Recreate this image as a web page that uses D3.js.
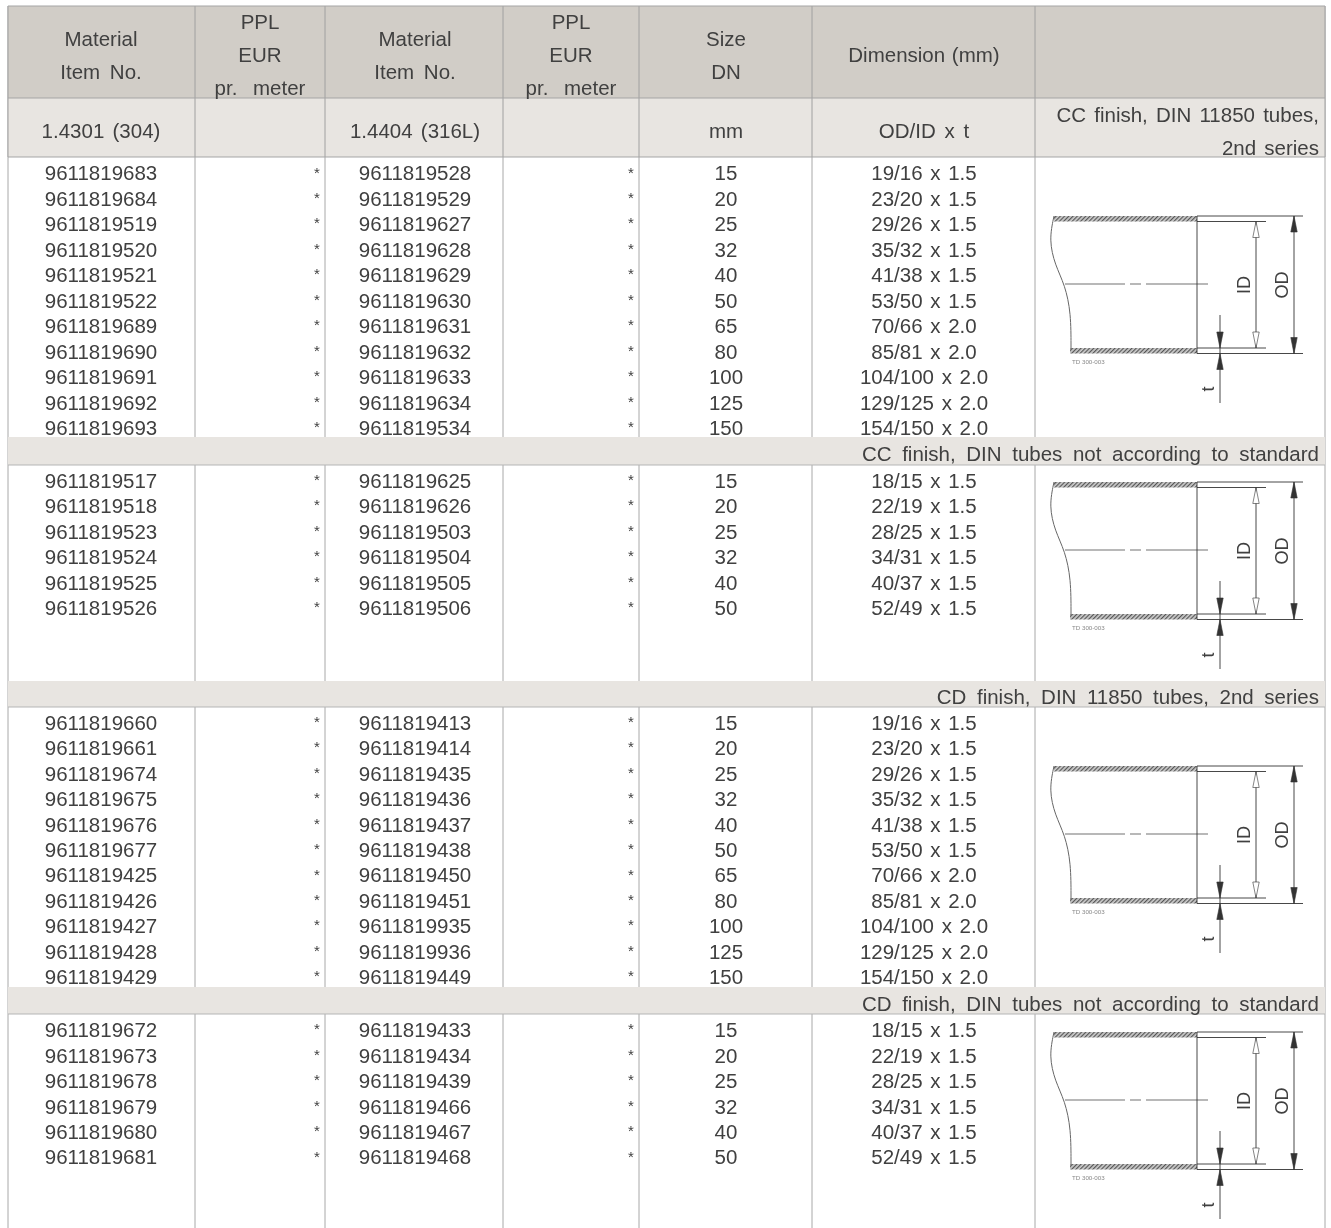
<!DOCTYPE html>
<html>
<head>
<meta charset="utf-8">
<script src="https://cdn.jsdelivr.net/npm/d3@7"></script>
<style>
body { margin: 0; background: #fff; }
svg { display: block; filter: blur(0.35px); }
text { font-family: "Liberation Sans", sans-serif; fill: #404040; }
</style>
</head>
<body>
<div id="table"></div>
<script>
const width = 1331;
const height = 1228;

// table content
const sizesLong = ["15", "20", "25", "32", "40", "50", "65", "80", "100", "125", "150"];
const sizesShort = ["15", "20", "25", "32", "40", "50"];
const dimsLong = ["19/16 x 1.5", "23/20 x 1.5", "29/26 x 1.5", "35/32 x 1.5", "41/38 x 1.5", "53/50 x 1.5",
  "70/66 x 2.0", "85/81 x 2.0", "104/100 x 2.0", "129/125 x 2.0", "154/150 x 2.0"];
const dimsShort = ["18/15 x 1.5", "22/19 x 1.5", "28/25 x 1.5", "34/31 x 1.5", "40/37 x 1.5", "52/49 x 1.5"];

const items304a = ["9611819683", "9611819684", "9611819519", "9611819520", "9611819521", "9611819522",
  "9611819689", "9611819690", "9611819691", "9611819692", "9611819693"];
const items316a = ["9611819528", "9611819529", "9611819627", "9611819628", "9611819629", "9611819630",
  "9611819631", "9611819632", "9611819633", "9611819634", "9611819534"];
const items304b = ["9611819517", "9611819518", "9611819523", "9611819524", "9611819525", "9611819526"];
const items316b = ["9611819625", "9611819626", "9611819503", "9611819504", "9611819505", "9611819506"];
const items304c = ["9611819660", "9611819661", "9611819674", "9611819675", "9611819676", "9611819677",
  "9611819425", "9611819426", "9611819427", "9611819428", "9611819429"];
const items316c = ["9611819413", "9611819414", "9611819435", "9611819436", "9611819437", "9611819438",
  "9611819450", "9611819451", "9611819935", "9611819936", "9611819449"];
const items304d = ["9611819672", "9611819673", "9611819678", "9611819679", "9611819680", "9611819681"];
const items316d = ["9611819433", "9611819434", "9611819439", "9611819466", "9611819467", "9611819468"];

const bandLabels = ["CC finish, DIN tubes not according to standard",
  "CD finish, DIN 11850 tubes, 2nd series",
  "CD finish, DIN tubes not according to standard"];

// layout
const colEdges = [8, 195, 325, 503, 639, 812, 1035, 1325];
const cx = { item1: 101, star1: 317, item2: 415, star2: 631, size: 726, dim: 924, ppl1: 260, ppl2: 571 };
const rowStep = 25.45;
const fontSize = 20.5;

const sections = [
  { a: items304a, b: items316a, sizes: sizesLong, dims: dimsLong, y0: 173.3, draw: 216 },
  { a: items304b, b: items316b, sizes: sizesShort, dims: dimsShort, y0: 480.6, draw: 482 },
  { a: items304c, b: items316c, sizes: sizesLong, dims: dimsLong, y0: 722.6, draw: 766 },
  { a: items304d, b: items316d, sizes: sizesShort, dims: dimsShort, y0: 1030, draw: 1032 }
];
const bands = [{ y0: 437, y1: 465 }, { y0: 681, y1: 707 }, { y0: 987, y1: 1014 }];

const svg = d3.select("#table").append("svg")
  .attr("width", width)
  .attr("height", height);

const defs = svg.append("defs");
const hatch = defs.append("pattern")
  .attr("id", "hatch")
  .attr("width", 3)
  .attr("height", 3)
  .attr("patternUnits", "userSpaceOnUse")
  .attr("patternTransform", "rotate(45)");
hatch.append("rect").attr("width", 3).attr("height", 3).attr("fill", "#ccc");
hatch.append("rect").attr("width", 1.2).attr("height", 3).attr("fill", "#555");

function label(parent, x, y, str, anchor, size, gap) {
  return parent.append("text")
    .attr("x", x)
    .attr("y", y)
    .attr("dy", "0.35em")
    .attr("text-anchor", anchor || "middle")
    .style("font-size", (size || fontSize) + "px")
    .style("word-spacing", (gap === undefined ? 2.5 : gap) + "px")
    .text(str);
}

// body rows first, the bands sit over the last row of each block
sections.forEach(s => {
  const y = d3.scaleLinear().domain([0, 1]).range([s.y0, s.y0 + rowStep]);
  const g = svg.append("g");
  s.a.forEach((d, i) => {
    label(g, cx.item1, y(i), d);
    label(g, cx.star1, y(i) - 1, "*", "middle", 15);
    label(g, cx.item2, y(i), s.b[i]);
    label(g, cx.star2, y(i) - 1, "*", "middle", 15);
    label(g, cx.size, y(i), s.sizes[i]);
    label(g, cx.dim, y(i), s.dims[i], "middle", fontSize, 2);
  });
});

// column rules
svg.append("g").selectAll("line")
  .data(colEdges)
  .enter().append("line")
  .attr("x1", d => d)
  .attr("x2", d => d)
  .attr("y1", 6)
  .attr("y2", height)
  .attr("stroke", "#a8a8a8")
  .attr("stroke-width", 1);

// header
svg.append("rect").attr("x", 8).attr("y", 6).attr("width", 1317).attr("height", 92).attr("fill", "#d1cdc7");
svg.append("rect").attr("x", 8).attr("y", 98).attr("width", 1317).attr("height", 59).attr("fill", "#e8e5e1");
svg.append("g").selectAll("line")
  .data(colEdges)
  .enter().append("line")
  .attr("x1", d => d)
  .attr("x2", d => d)
  .attr("y1", 6)
  .attr("y2", 157)
  .attr("stroke", "#a0a0a0")
  .attr("stroke-width", 1);
svg.append("g").selectAll("line")
  .data([6, 98, 157])
  .enter().append("line")
  .attr("x1", 8)
  .attr("x2", 1325)
  .attr("y1", d => d)
  .attr("y2", d => d)
  .attr("stroke", "#a5a5a5");

const head = svg.append("g");
[cx.item1, cx.item2].forEach(x => {
  label(head, x, 39, "Material");
  label(head, x, 72, "Item No.", "middle", fontSize, 4);
});
[cx.ppl1, cx.ppl2].forEach(x => {
  label(head, x, 22, "PPL");
  label(head, x, 55, "EUR");
  label(head, x, 88.2, "pr. meter", "middle", fontSize, 10);
});
label(head, cx.size, 39, "Size");
label(head, cx.size, 72, "DN");
label(head, cx.dim, 55, "Dimension (mm)", "middle", fontSize, 1);
label(head, cx.item1, 131, "1.4301 (304)");
label(head, cx.item2, 131, "1.4404 (316L)");
label(head, cx.size, 131, "mm");
label(head, cx.dim, 131, "OD/ID x t", "middle", fontSize, 3);
label(head, 1319, 115, "CC finish, DIN 11850 tubes,", "end");
label(head, 1319, 148, "2nd series", "end");

// section bands
bands.forEach((b, i) => {
  svg.append("rect")
    .attr("x", 8)
    .attr("y", b.y0)
    .attr("width", 1317)
    .attr("height", b.y1 - b.y0)
    .attr("fill", "#e8e5e1");
  svg.append("line")
    .attr("x1", 8).attr("x2", 1325)
    .attr("y1", b.y1).attr("y2", b.y1)
    .attr("stroke", "#b5b5b5");
  label(svg, 1319, (b.y0 + b.y1) / 2 + 3, bandLabels[i], "end", fontSize, 4.9);
});

// tube drawing, same one repeated in each block
const breakCurve = [[24, 0], [19, 24], [25, 49], [35, 69], [41, 97], [41, 133]];
const curveLine = d3.line().curve(d3.curveBasis);

function arrow(g, x, y, dir, hollow) {
  g.append("path")
    .attr("d", `M${x},${y} L${x - 3.2},${y + dir * 16} L${x + 3.2},${y + dir * 16} Z`)
    .attr("fill", hollow ? "#fff" : "#333")
    .attr("stroke", "#333")
    .attr("stroke-width", 0.6);
}

function tube(top) {
  const g = svg.append("g").attr("transform", `translate(1030,${top})`);
  const ln = (x1, y1, x2, y2, w) => g.append("line")
    .attr("x1", x1).attr("y1", y1).attr("x2", x2).attr("y2", y2)
    .attr("stroke", "#333").attr("stroke-width", w || 0.9);

  g.append("rect").attr("x", 24).attr("y", 0).attr("width", 143).attr("height", 5.5).attr("fill", "url(#hatch)");
  g.append("rect").attr("x", 40).attr("y", 132).attr("width", 127).attr("height", 5.5).attr("fill", "url(#hatch)");
  g.append("path")
    .attr("d", curveLine(breakCurve))
    .attr("fill", "none")
    .attr("stroke", "#666")
    .attr("stroke-width", 1);

  ln(167, 0, 167, 137.5);
  ln(167, 0, 273, 0);
  ln(167, 137.5, 273, 137.5);
  ln(167, 5.5, 236, 5.5);
  ln(167, 132, 236, 132);

  [[35, 95], [100, 111], [116, 178]].forEach(d => ln(d[0], 68, d[1], 68, 0.7));

  ln(226, 5.5, 226, 132);
  arrow(g, 226, 5.5, 1, true);
  arrow(g, 226, 132, -1, true);

  ln(264, 0, 264, 137.5);
  arrow(g, 264, 0, 1, false);
  arrow(g, 264, 137.5, -1, false);

  ln(190, 99, 190, 187);
  arrow(g, 190, 132, -1, false);
  arrow(g, 190, 137.5, 1, false);

  const rot = (x, y, str) => g.append("text")
    .attr("transform", `translate(${x},${y}) rotate(-90)`)
    .attr("text-anchor", "middle")
    .style("font-size", "18px")
    .text(str);
  rot(219.5, 69, "ID");
  rot(257.5, 69, "OD");
  rot(184, 173, "t");

  g.append("text")
    .attr("x", 42)
    .attr("y", 148)
    .style("font-size", "6.2px")
    .style("fill", "#888")
    .text("TD 300-003");
}

sections.forEach(s => tube(s.draw));
</script>
</body>
</html>
